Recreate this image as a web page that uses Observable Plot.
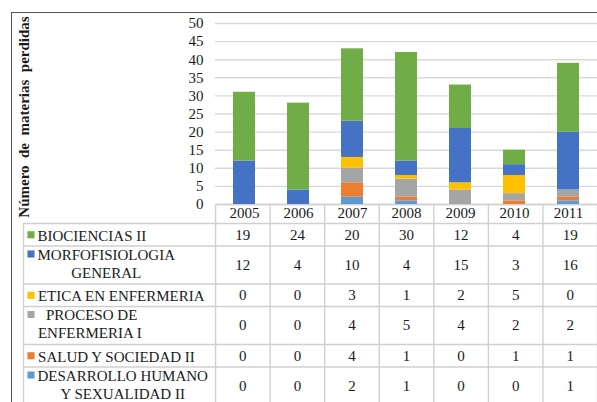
<!DOCTYPE html>
<html>
<head>
<meta charset="utf-8">
<script src="https://cdn.jsdelivr.net/npm/d3@7"></script>
<script src="https://cdn.jsdelivr.net/npm/@observablehq/plot@0.6"></script>
<style>
  body { margin: 0; background: #fff; }
  #wrap { position: relative; width: 597px; height: 402px; overflow: hidden; background: #fff; }
  #frame { position: absolute; left: 11px; top: 12px; width: 640px; height: 440px;
           border-left: 1.4px solid #555; border-top: 1.4px solid #555; box-sizing: border-box; }
  #chart, #table { position: absolute; left: 0; }
  #chart { top: 0; }
  #table { top: 204px; }
  svg { overflow: visible; }
</style>
</head>
<body>
<div id="wrap"><div id="frame"></div><div id="chart"></div><div id="table"></div></div>
<script>
// ---- data ----
const years = ["2005", "2006", "2007", "2008", "2009", "2010", "2011"];
const seriesNames = [
  "BIOCIENCIAS II",
  "MORFOFISIOLOGIA\nGENERAL",
  "ETICA EN ENFERMERIA",
  " PROCESO DE\nENFERMERIA I",
  "SALUD Y SOCIEDAD II",
  "DESARROLLO HUMANO\nY SEXUALIDAD II"
];
const biociencias     = [19, 24, 20, 30, 12, 4, 19];
const morfofisiologia = [12, 4, 10, 4, 15, 3, 16];
const etica           = [0, 0, 3, 1, 2, 5, 0];
const proceso         = [0, 0, 4, 5, 4, 2, 2];
const salud           = [0, 0, 4, 1, 0, 1, 1];
const desarrollo      = [0, 0, 2, 1, 0, 0, 1];
const yTicks = [0, 5, 10, 15, 20, 25, 30, 35, 40, 45, 50];
const yTitle = "Número  de  materias  perdidas";

// ---- styles ----
const seriesColors = ["#70AD47", "#4472C4", "#FFC000", "#A5A5A5", "#ED7D31", "#5B9BD5"];
const serif = "'Liberation Serif', 'Times New Roman', serif";
const gridColor = "#d9d9d9";
const tableLine = "#d0d0d0";

const seriesValues = [biociencias, morfofisiologia, etica, proceso, salud, desarrollo];

// long data, bottom of stack first
const long = [];
for (let s = seriesNames.length - 1; s >= 0; s--) {
  years.forEach((y, j) => long.push({year: y, series: seriesNames[s], value: seriesValues[s][j]}));
}

const W = 597;
const chart = Plot.plot({
  width: W, height: 222,
  marginTop: 23, marginBottom: 18, marginLeft: 215, marginRight: 0,
  style: {fontFamily: serif, fontSize: "15px", color: "#1a1a1a", background: "transparent"},
  x: {domain: years, paddingInner: 0.6, paddingOuter: 0.3},
  y: {domain: [0, 50]},
  color: {domain: seriesNames, range: seriesColors},
  marks: [
    Plot.gridY(yTicks, {stroke: gridColor, strokeOpacity: 1, strokeWidth: 1.4}),
    Plot.ruleY([0], {stroke: tableLine, strokeWidth: 1.4}),
    Plot.barY(long, {x: "year", y: "value", fill: "series"}),
    Plot.axisY(yTicks, {tickSize: 0, tickPadding: 12, label: null}),
    Plot.axisX({tickSize: 0, tickPadding: 3, label: null}),
    Plot.text([yTitle], {frameAnchor: "left", textAnchor: "middle", lineAnchor: "middle",
                         dx: -191, dy: 3, rotate: -90,
                         fontWeight: "bold", fontSize: 15, fill: "#1a1a1a"})
  ]
});
document.getElementById("chart").append(chart);

// ---- data table ----
const headerH = 19;
const labelCols = 3.52;
let acc = headerH;
const rows = seriesNames.map((name, i) => {
  const lines = name.split("\n").length;
  const h = 7 + 15.5 * lines;
  const r = {name, lines, top: acc, bottom: acc + h, mid: acc + h / 2, values: seriesValues[i]};
  acc += h;
  return r;
});
const cells = rows.flatMap(r => r.values.map((v, j) => ({col: j + 0.5, mid: r.mid, v})));

const ctx = document.createElement("canvas").getContext("2d");
ctx.font = "15px 'Liberation Serif'";
const textW = s => Math.max(...s.split("\n").map(l => ctx.measureText(l).width));

const labelMarks = rows.map(r => Plot.text([r], {
  y: "mid", text: "name", frameAnchor: "left", dx: 14 + textW(r.name) / 2, dy: r.lines > 1 ? -2 : 0,
  textAnchor: "middle", lineAnchor: "middle", lineHeight: 1.2, fill: "#1a1a1a"
}));

const table = Plot.plot({
  width: W, height: 198,
  marginTop: 0, marginBottom: 0, marginLeft: 23, marginRight: 0,
  style: {fontFamily: serif, fontSize: "15px", color: "#1a1a1a", background: "transparent"},
  x: {type: "linear", domain: [-labelCols, 7], range: [23, W], axis: null},
  y: {type: "linear", domain: [0, 198], range: [0, 198], axis: null},
  color: {domain: seriesNames, range: seriesColors},
  marks: [
    Plot.ruleY([headerH, ...rows.map(r => r.bottom)], {y: d => d, x1: -labelCols, x2: 7, stroke: tableLine, strokeWidth: 1.4}),
    Plot.ruleX(d3.range(0, 8), {x: d => d, y1: 0, y2: 198, stroke: tableLine, strokeWidth: 1.4}),
    Plot.ruleX([-labelCols], {x: d => d, y1: headerH, y2: 198, stroke: tableLine, strokeWidth: 1.4}),
    Plot.text(cells, {x: "col", y: "mid", text: "v", fill: "#1a1a1a"}),
    Plot.dot(rows, {y: d => d.mid - (d.lines - 1) * 9 - (d.lines > 1 ? 2 : 0), frameAnchor: "left", dx: 7.5,
                    symbol: "square", r: 4, fill: "name", stroke: null}),
    ...labelMarks
  ]
});
document.getElementById("table").append(table);
</script>
</body>
</html>
